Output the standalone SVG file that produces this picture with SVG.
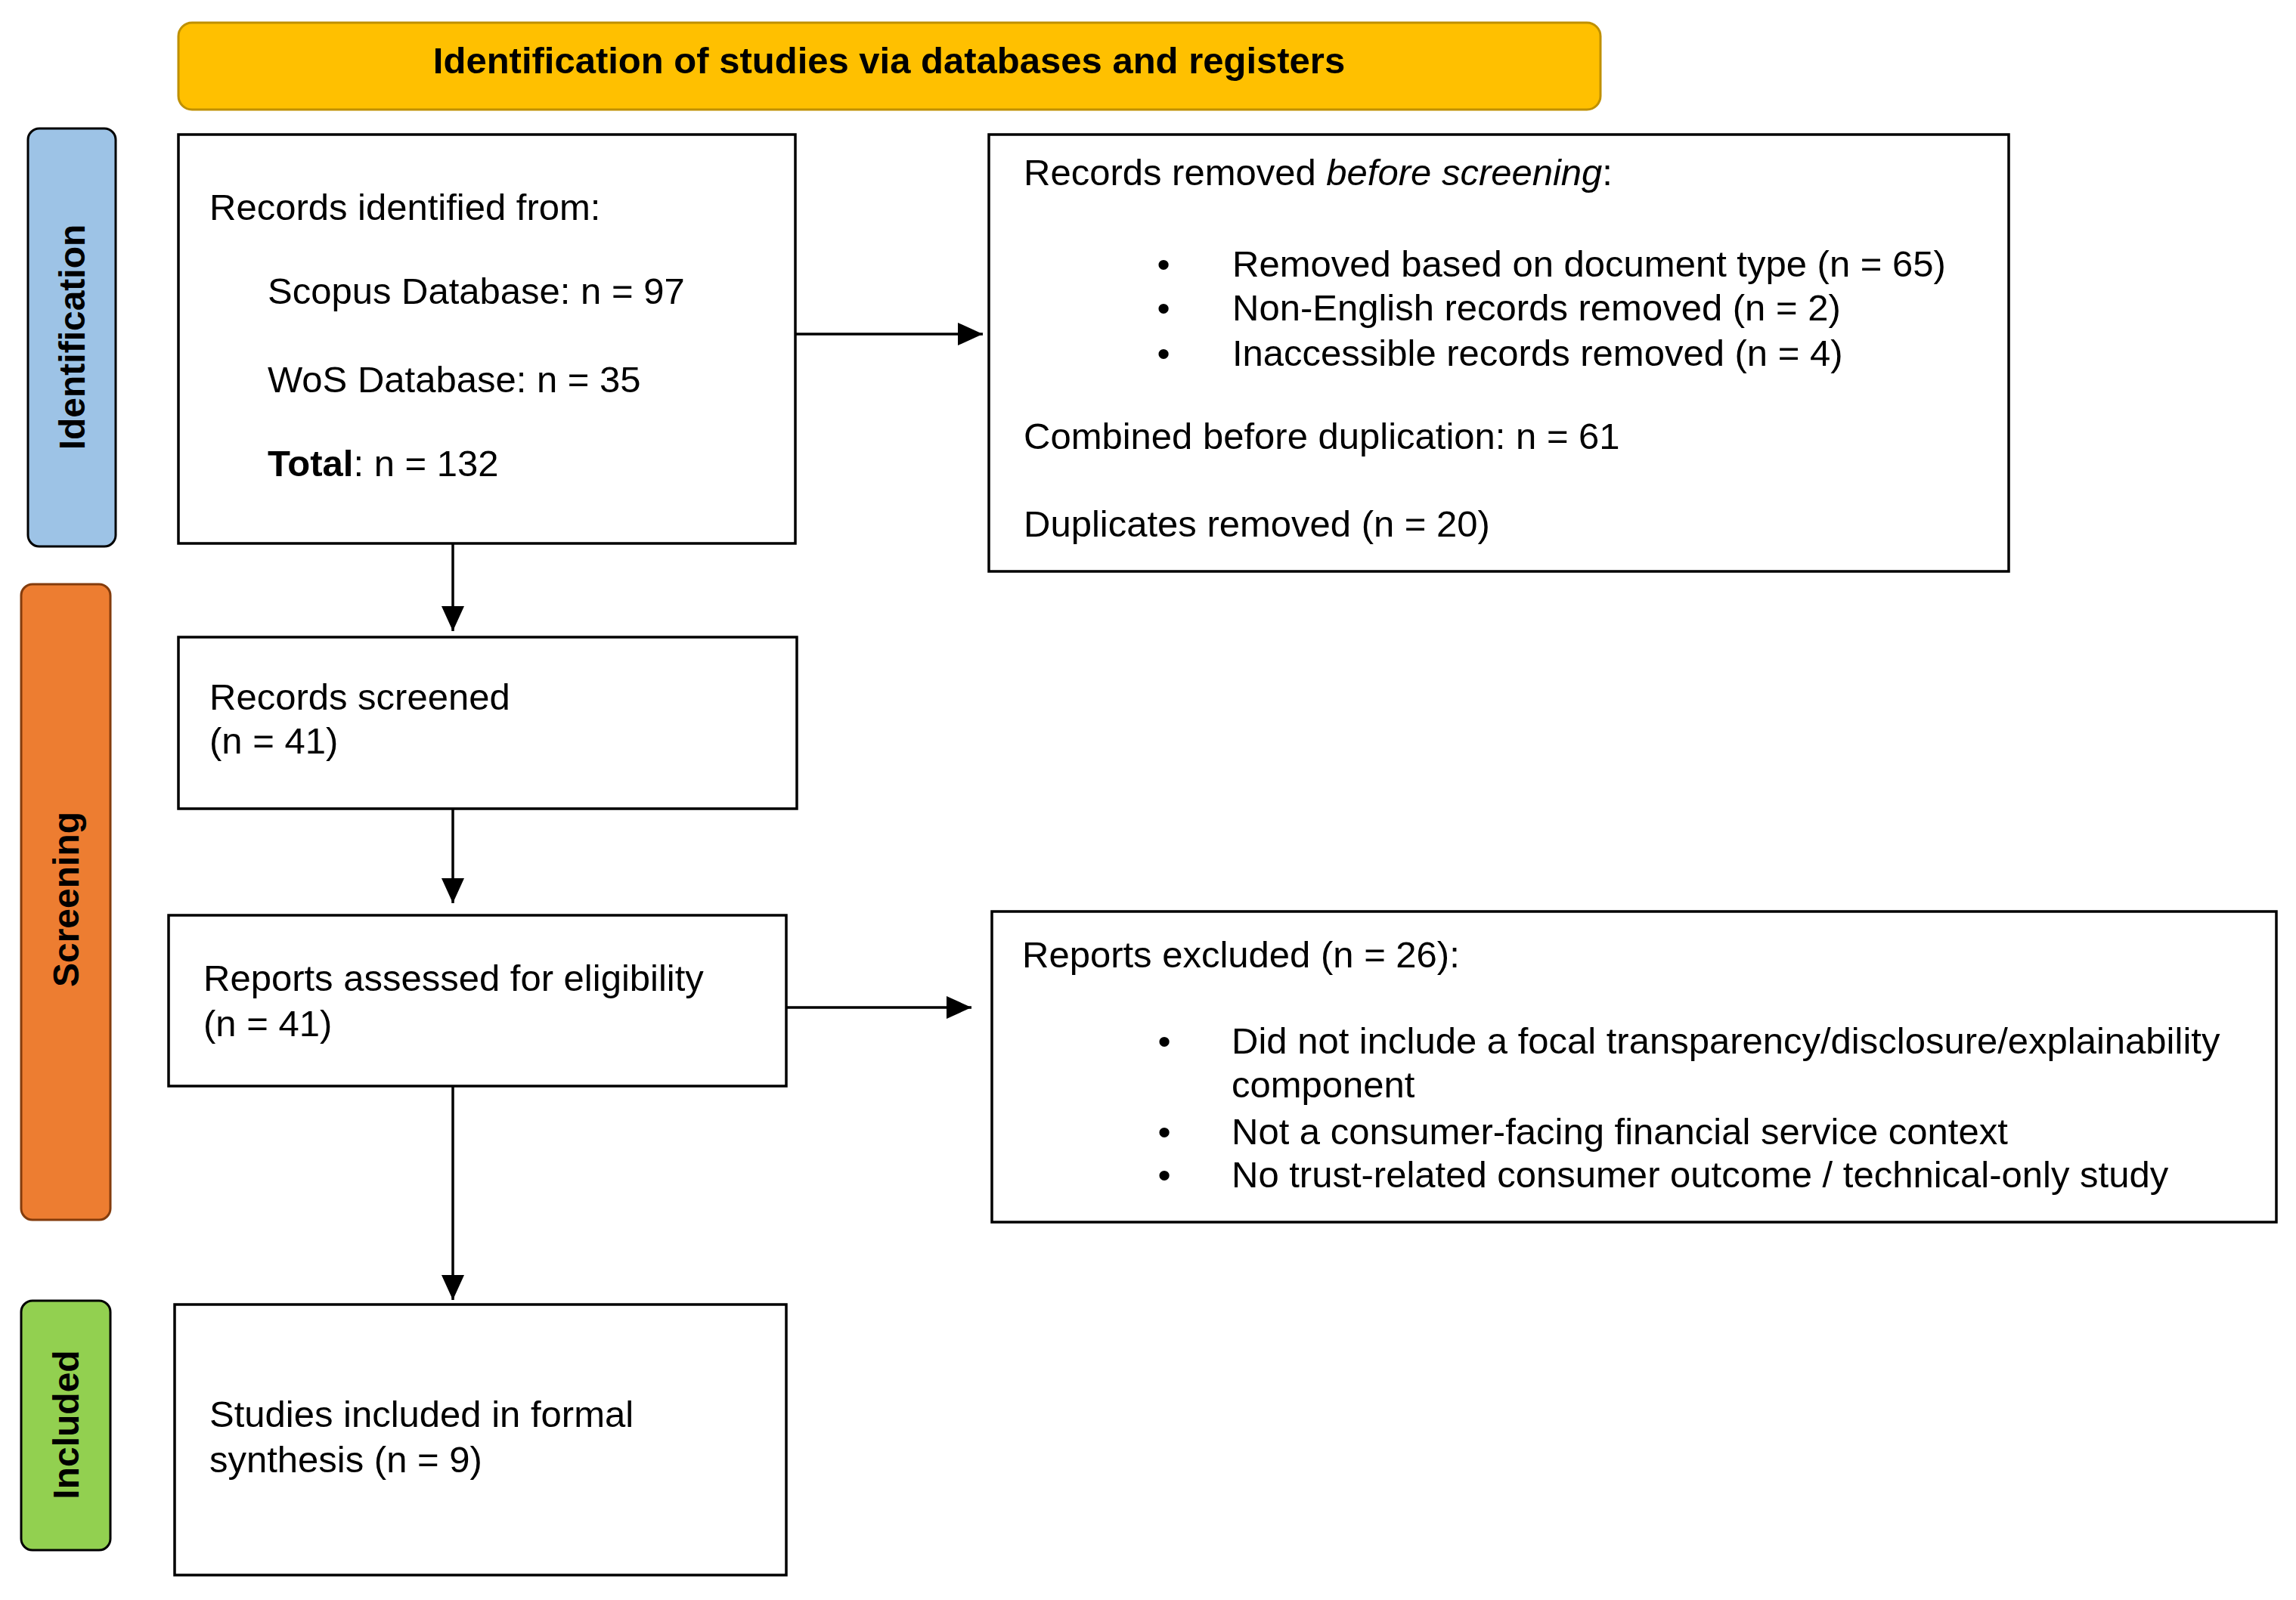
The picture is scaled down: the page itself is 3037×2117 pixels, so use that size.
<svg xmlns="http://www.w3.org/2000/svg" width="3037" height="2117" viewBox="0 0 3037 2117">
  <style>
    text { font-family: "Liberation Sans", Arial, sans-serif; fill: #000; }
    .t { font-size: 49px; }
    .b { font-size: 49px; font-weight: bold; }
    .lab { font-size: 48px; font-weight: bold; text-anchor: middle; }
    .box { fill: #fff; stroke: #000; stroke-width: 3.5; }
    .con { stroke: #000; stroke-width: 3.5; fill: none; marker-end: url(#ah); }
    .bul { font-size: 49px; text-anchor: middle; }
  </style>
  <defs>
    <marker id="ah" markerUnits="userSpaceOnUse" markerWidth="34" markerHeight="32" refX="33" refY="15" orient="auto">
      <path d="M0,0 L33,15 L0,30 Z" fill="#000"/>
    </marker>
  </defs>
  <rect width="3037" height="2117" fill="#fff"/>

  <g id="banner">
    <rect x="236" y="30" width="1881" height="115" rx="18" ry="18" fill="#FFC000" stroke="#BF9000" stroke-width="3"/>
    <text class="b" x="1176" y="97" text-anchor="middle">Identification of studies via databases and registers</text>
  </g>

  <g id="label-identification">
    <rect x="37" y="170" width="116" height="553" rx="15" ry="15" fill="#9DC3E6" stroke="#000" stroke-width="3"/>
    <text class="lab" transform="translate(112,446) rotate(-90)">Identification</text>
  </g>
  <g id="label-screening">
    <rect x="28" y="773" width="118" height="841" rx="15" ry="15" fill="#ED7D31" stroke="#843C0C" stroke-width="3"/>
    <text class="lab" transform="translate(104,1190) rotate(-90)">Screening</text>
  </g>
  <g id="label-included">
    <rect x="28" y="1721" width="118" height="330" rx="15" ry="15" fill="#92D050" stroke="#000" stroke-width="3"/>
    <text class="lab" transform="translate(104,1885) rotate(-90)">Included</text>
  </g>

  <g id="records-identified">
    <rect class="box" x="236" y="178" width="816" height="541"/>
    <text class="t" x="277" y="291">Records identified from:</text>
    <text class="t" x="354" y="402">Scopus Database: n = 97</text>
    <text class="t" x="354" y="519">WoS Database: n = 35</text>
    <text class="t" x="354" y="630"><tspan font-weight="bold">Total</tspan>: n = 132</text>
  </g>

  <g id="records-removed">
    <rect class="box" x="1308" y="178" width="1349" height="578"/>
    <text class="t" x="1354" y="245">Records removed <tspan font-style="italic">before screening</tspan>:</text>
    <text class="bul" x="1539" y="366">•</text>
    <text class="t" x="1630" y="366">Removed based on document type (n = 65)</text>
    <text class="bul" x="1539" y="424">•</text>
    <text class="t" x="1630" y="424">Non-English records removed (n = 2)</text>
    <text class="bul" x="1539" y="484">•</text>
    <text class="t" x="1630" y="484">Inaccessible records removed (n = 4)</text>
    <text class="t" x="1354" y="594">Combined before duplication: n = 61</text>
    <text class="t" x="1354" y="710">Duplicates removed (n = 20)</text>
  </g>

  <g id="records-screened">
    <rect class="box" x="236" y="843" width="818" height="227"/>
    <text class="t" x="277" y="939">Records screened</text>
    <text class="t" x="277" y="997">(n = 41)</text>
  </g>

  <g id="reports-assessed">
    <rect class="box" x="223" y="1211" width="817" height="226"/>
    <text class="t" x="269" y="1311">Reports assessed for eligibility</text>
    <text class="t" x="269" y="1371">(n = 41)</text>
  </g>

  <g id="reports-excluded">
    <rect class="box" x="1312" y="1206" width="1699" height="411"/>
    <text class="t" x="1352" y="1280">Reports excluded (n = 26):</text>
    <text class="bul" x="1540" y="1394">•</text>
    <text class="t" x="1629" y="1394">Did not include a focal transparency/disclosure/explainability</text>
    <text class="t" x="1629" y="1452">component</text>
    <text class="bul" x="1540" y="1514">•</text>
    <text class="t" x="1629" y="1514">Not a consumer-facing financial service context</text>
    <text class="bul" x="1540" y="1571">•</text>
    <text class="t" x="1629" y="1571">No trust-related consumer outcome / technical-only study</text>
  </g>

  <g id="studies-included">
    <rect class="box" x="231" y="1726" width="809" height="358"/>
    <text class="t" x="277" y="1888">Studies included in formal</text>
    <text class="t" x="277" y="1948">synthesis (n = 9)</text>
  </g>

  <g id="connectors">
    <line class="con" x1="1052" y1="442" x2="1300" y2="442"/>
    <line class="con" x1="599" y1="719" x2="599" y2="835"/>
    <line class="con" x1="599" y1="1070" x2="599" y2="1195"/>
    <line class="con" x1="1040" y1="1333" x2="1285" y2="1333"/>
    <line class="con" x1="599" y1="1437" x2="599" y2="1720"/>
  </g>
</svg>
